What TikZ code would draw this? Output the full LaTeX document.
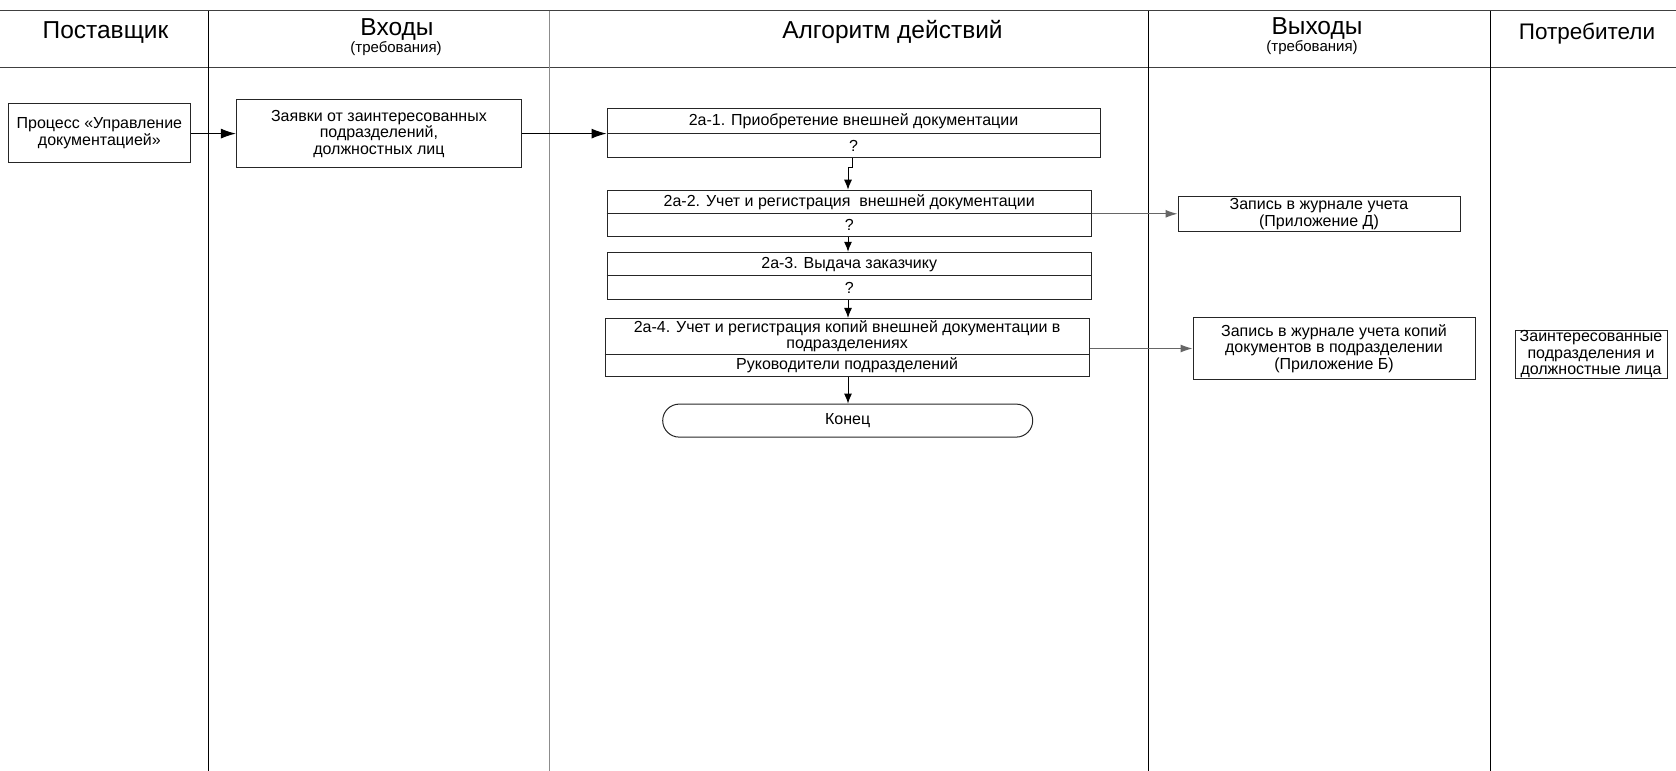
\documentclass[tikz,border=0pt]{standalone}
\usepackage{fontspec}
\setmainfont{Liberation Sans}
\usetikzlibrary{arrows.meta,shapes.misc}
\begin{document}
\begin{tikzpicture}[x=1pt,y=-1pt,
  box/.style={draw=black!85, line width=1pt, inner sep=0pt, align=center,
    font=\fontsize{16}{16.5}\selectfont},
  lbl/.style={inner sep=0pt, align=center, font=\fontsize{16}{16.5}\selectfont},
  head/.style={inner sep=0pt, font=\fontsize{24.5}{27}\selectfont},
  sub/.style={inner sep=0pt, font=\fontsize{15}{17}\selectfont},
  rule/.style={line width=1pt, draw=black!75},
  lane/.style={line width=1pt, draw=black},
  flow/.style={line width=1pt, -{Latex[length=10pt,width=8pt]}},
  bigflow/.style={line width=1pt, -{Latex[length=15pt,width=10pt]}},
  sideflow/.style={line width=1pt, draw=black!60, -{Latex[length=12pt,width=8pt]}}
]
\useasboundingbox (0,0) rectangle (1676,771);

% header rules and lane separators
\draw[rule] (0,10.7) -- (1676,10.7);
\draw[rule] (0,67.3) -- (1676,67.3);
\draw[lane] (208.4,10.7) -- (208.4,771);
\draw[lane, draw=black!45] (549.4,10.7) -- (549.4,771);
\draw[lane] (1148,10.7) -- (1148,771);
\draw[lane] (1490,10.7) -- (1490,771);

% column titles
\node[head] (h1) at (105.5,33) {Поставщик};
\node[head] (h2) at (397,30) {Входы};
\node[sub]  (h2s) at (396,49) {(требования)};
\node[head] (h3) at (892.5,32) {Алгоритм действий};
\node[head] (h4) at (1317,29) {Выходы};
\node[sub]  (h4s) at (1312,47.5) {(требования)};
\node[head, font=\fontsize{22.5}{25}\selectfont] (h5) at (1587,34) {Потребители};

% supplier and input
\node[box, minimum width=182pt, minimum height=59pt] (p) at (99.4,133.1)
  {Процесс «Управление\\документацией»};
\node[box, minimum width=285pt, minimum height=68pt] (z) at (378.9,133.6)
  {Заявки от заинтересованных\\подразделений,\\должностных лиц};

% action steps
\node[box, minimum width=493pt, minimum height=49pt] (a1) at (853.5,132.5) {};
\draw[line width=1pt, draw=black!85] (a1.west |- 0,133.6) -- (a1.east |- 0,133.6);
\node[lbl] (a1t) at (853.5,121.3) {2а-1. Приобретение внешней документации};
\node[lbl] (a1q) at (853.5,145.5) {?};

\node[box, minimum width=484pt, minimum height=46pt] (a2) at (849.2,213.2) {};
\draw[line width=1pt, draw=black!85] (a2.west |- 0,213.8) -- (a2.east |- 0,213.8);
\node[lbl] (a2t) at (849.2,202) {2а-2. Учет и регистрация\ \ внешней документации};
\node[lbl] (a2q) at (849.2,225.3) {?};

\node[box, minimum width=484pt, minimum height=47pt] (a3) at (849.2,275.8) {};
\draw[line width=1pt, draw=black!85] (a3.west |- 0,275.8) -- (a3.east |- 0,275.8);
\node[lbl] (a3t) at (849.2,264.5) {2а-3. Выдача заказчику};
\node[lbl] (a3q) at (849.2,287.5) {?};

\node[box, minimum width=484pt, minimum height=58pt] (a4) at (847.1,347.4) {};
\draw[line width=1pt, draw=black!85] (a4.west |- 0,354.9) -- (a4.east |- 0,354.9);
\node[lbl] (a4t) at (847.1,336) {2а-4. Учет и регистрация копий внешней документации в\\подразделениях};
\node[lbl] (a4q) at (847.1,365) {Руководители подразделений};

\node[box, rounded rectangle, minimum width=370pt, minimum height=33pt] (end) at (847.7,420.6) {Конец};

% outputs and consumers
\node[box, minimum width=282pt, minimum height=35pt] (d) at (1319,214.3)
  {Запись в журнале учета\\(Приложение Д)};
\node[box, minimum width=282pt, minimum height=62pt] (b) at (1334,348.5)
  {Запись в журнале учета копий\\документов в подразделении\\(Приложение Б)};
\node[box, minimum width=152pt, minimum height=48pt] (c) at (1591,354.5)
  {Заинтересованные\\подразделения и\\должностные лица};

% connectors
\draw[bigflow] (p.east |- 0,133.6) -- (z.west |- 0,133.6);
\draw[bigflow] (z.east |- 0,133.6) -- (a1.west |- 0,133.6);
\draw[flow] (a1.south -| 852.5,0) -- (852.5,167) -- (848,167) -- (a2.north -| 848,0);
\draw[flow] (a2.south -| 848,0) -- (a3.north -| 848,0);
\draw[flow] (a3.south -| 848,0) -- (a4.north -| 848,0);
\draw[flow] (a4.south -| 848,0) -- (end.north -| 848,0);
\draw[sideflow] (a2.east |- 0,213.8) -- (d.west |- 0,213.8);
\draw[sideflow] (a4.east |- 0,348.5) -- (b.west |- 0,348.5);
\end{tikzpicture}
\end{document}
